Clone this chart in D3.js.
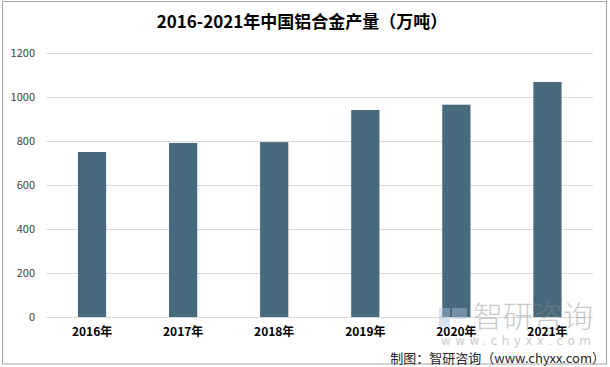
<!DOCTYPE html>
<html>
<head>
<meta charset="utf-8">
<script src="https://cdn.jsdelivr.net/npm/d3@7"></script>
<style>
  html, body { margin: 0; padding: 0; background: #fff; }
  svg { display: block; }
</style>
</head>
<body>
<svg id="chart"></svg>
<script>
var years = ['2016年', '2017年', '2018年', '2019年', '2020年', '2021年'];
var output = [750, 791, 795, 941, 965, 1068];
var yTicks = [0, 200, 400, 600, 800, 1000, 1200];

var titleText = '2016-2021年中国铝合金产量（万吨）';
var sourceText = '制图：智研咨询（www.chyxx.com）';

var size = {width: 610, height: 367};
var margin = {top: 53, right: 17, bottom: 50, left: 46.5};
var cjk = '"Noto Sans CJK SC", "Noto Sans", sans-serif';

var svg = d3.select('#chart')
  .attr('width', size.width)
  .attr('height', size.height);

// frame
svg.append('rect')
  .attr('x', 2.5).attr('y', 1.5)
  .attr('width', 604).attr('height', 362.5)
  .attr('fill', '#fff')
  .attr('stroke', '#a6a6a6');

var x = d3.scaleBand()
  .domain(years)
  .range([margin.left, size.width - margin.right])
  .paddingInner(0.69)
  .paddingOuter(0.345);

var y = d3.scaleLinear()
  .domain([0, 1200])
  .range([size.height - margin.bottom, margin.top]);

// gridlines
svg.append('g')
  .selectAll('line')
  .data(yTicks)
  .enter().append('line')
  .attr('x1', margin.left)
  .attr('x2', size.width - margin.right)
  .attr('y1', d => Math.round(y(d)) + 0.5)
  .attr('y2', d => Math.round(y(d)) + 0.5)
  .attr('stroke', '#d9d9d9');

// y axis labels
var yAxis = svg.append('g')
  .attr('transform', 'translate(35,0)')
  .call(d3.axisLeft(y).tickValues(yTicks).tickFormat(d3.format('d')).tickSize(0).tickPadding(0));
yAxis.select('.domain').remove();
yAxis.selectAll('text')
  .attr('fill', '#404040')
  .style('font-family', cjk)
  .style('font-size', '11px');

// bars
svg.append('g')
  .selectAll('rect')
  .data(output)
  .enter().append('rect')
  .attr('x', (d, i) => x(years[i]))
  .attr('y', d => y(d))
  .attr('width', x.bandwidth())
  .attr('height', d => y(0) - y(d))
  .attr('fill', '#476b7c');

// watermark, drawn over the bars
var wm = svg.append('g').attr('opacity', 0.45);
wm.append('rect')
  .attr('x', 439).attr('y', 308).attr('width', 11).attr('height', 19)
  .attr('fill', '#a9bddb');
wm.append('rect')
  .attr('x', 452).attr('y', 308).attr('width', 15).attr('height', 11)
  .attr('fill', '#a9bddb');
wm.append('text')
  .attr('x', 473).attr('y', 327)
  .attr('fill', '#8c8c8c')
  .style('font-family', cjk)
  .style('font-weight', '300')
  .style('font-size', '30px')
  .text('智研咨询');
wm.append('text')
  .attr('x', 441).attr('y', 345)
  .attr('fill', '#8c8c8c')
  .style('font-family', '"DejaVu Sans", sans-serif')
  .style('font-size', '12px')
  .style('letter-spacing', '4.4px')
  .text('www.chyxx.com');

// x axis labels
var xAxis = svg.append('g')
  .attr('transform', 'translate(0,' + y(0) + ')')
  .call(d3.axisBottom(x).tickSize(0).tickPadding(10));
xAxis.select('.domain').remove();
xAxis.selectAll('text')
  .attr('fill', '#000')
  .style('font-family', cjk)
  .style('font-weight', 'bold')
  .style('font-size', '12px');

// title
svg.append('text')
  .attr('x', 302).attr('y', 28)
  .attr('text-anchor', 'middle')
  .attr('fill', '#000')
  .style('font-family', cjk)
  .style('font-weight', 'bold')
  .style('font-size', '17px')
  .text(titleText);

// source
svg.append('text')
  .attr('x', 605).attr('y', 363)
  .attr('text-anchor', 'end')
  .attr('fill', '#262626')
  .style('font-family', cjk)
  .style('font-size', '13px')
  .text(sourceText);
</script>
</body>
</html>
